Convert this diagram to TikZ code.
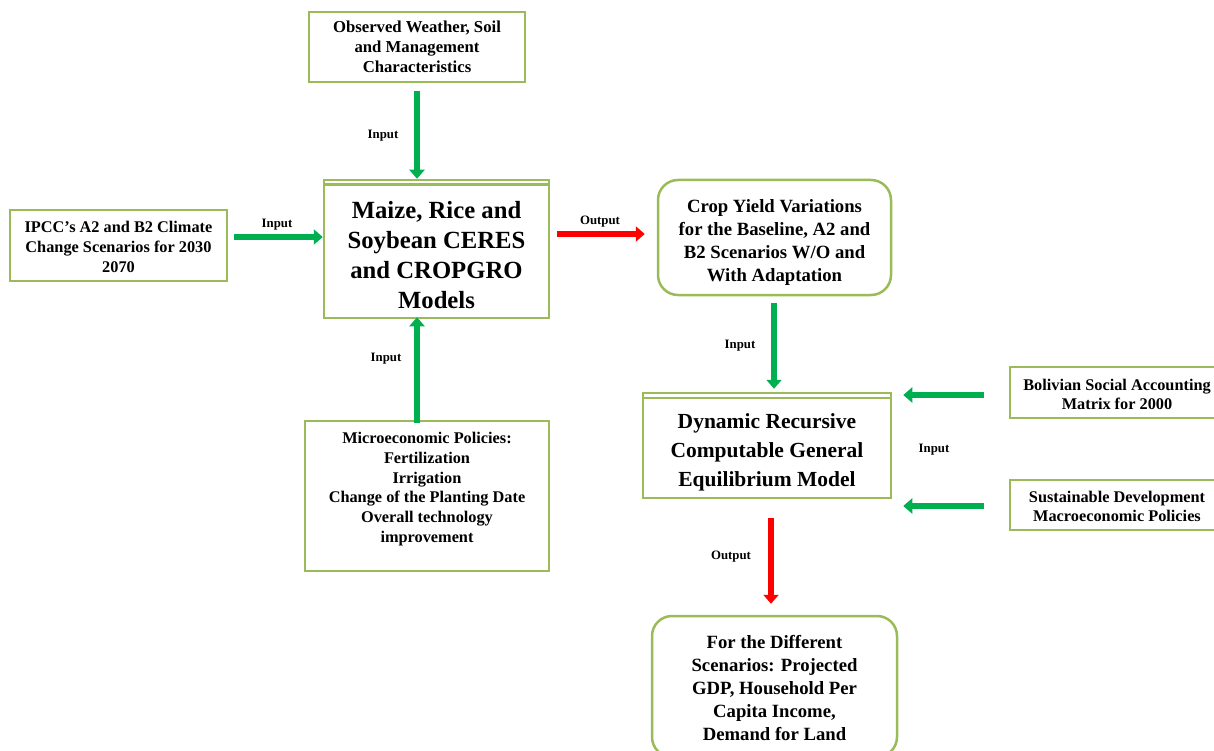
\documentclass[tikz,border=0pt]{standalone}
\usepackage{fontspec}
\setmainfont{Liberation Serif}
\usetikzlibrary{arrows.meta}
\definecolor{boxgreen}{HTML}{9BBB59}
\definecolor{arrgreen}{HTML}{00B050}
\definecolor{arrred}{HTML}{FF0000}
\tikzset{
  x=1pt, y=-1pt,
  box/.style={draw=boxgreen, line width=2.5pt, fill=white, inner sep=0pt},
  rbox/.style={box, rounded corners=20pt},
  txt/.style={align=center, inner sep=0pt},
  arrg/.style={draw=arrgreen, line width=6.5pt, -{Triangle[length=9pt,width=15pt]}},
  arrr/.style={draw=arrred, line width=6.5pt, -{Triangle[length=9pt,width=15pt]}},
  lbl/.style={font=\fontsize{12.8}{14}\selectfont\bfseries, inner sep=0pt},
  fA/.style={txt, font=\fontsize{16.3}{19.8}\selectfont\bfseries},
  fO/.style={txt, font=\fontsize{16.7}{20}\selectfont\bfseries},
  fB/.style={txt, font=\fontsize{24.7}{30}\selectfont\bfseries},
  fD/.style={txt, font=\fontsize{21.5}{29}\selectfont\bfseries},
  fC/.style={txt, font=\fontsize{18.7}{23}\selectfont\bfseries},
}
\begin{document}
\begin{tikzpicture}
\useasboundingbox (0,0) rectangle (1214,751);
% boxes
\node[box, minimum width=216pt, minimum height=70pt] (obs) at (417,47) {};
\node[fO] (obsT) at (417,47) {Observed Weather, Soil\\and Management\\Characteristics};
\node[box, minimum width=217pt, minimum height=71pt] (ipcc) at (118.5,245.5) {};
\node[fA] (ipccT) at (118.5,247) {IPCC’s A2 and B2 Climate\\Change Scenarios for 2030\\2070};
\node[box, minimum width=225pt, minimum height=138pt] (maize) at (436.5,249) {};
\draw[boxgreen, line width=2.5pt] ([yshift=-6pt]maize.north west) -- ([yshift=-6pt]maize.north east);
\node[fB] (maizeT) at (436.5,255) {Maize, Rice and\\Soybean CERES\\and CROPGRO\\Models};
\node[rbox, minimum width=233pt, minimum height=115pt] (crop) at (774.5,237.5) {};
\node[fC] (cropT) at (774.5,242.5) {Crop Yield Variations\\for the Baseline, A2 and\\B2 Scenarios W/O and\\With Adaptation};
\node[box, minimum width=244pt, minimum height=150pt] (micro) at (427,496) {};
\node[fA] (microT) at (427,489) {Microeconomic Policies:\\Fertilization\\Irrigation\\Change of the Planting Date\\Overall technology\\improvement};
\node[box, minimum width=248pt, minimum height=105pt] (dyn) at (767,445.5) {};
\draw[boxgreen, line width=2.5pt] ([yshift=-6pt]dyn.north west) -- ([yshift=-6pt]dyn.north east);
\node[fD] (dynT) at (767,452) {Dynamic Recursive\\Computable General\\Equilibrium Model};
\node[box, minimum width=214pt, minimum height=51pt] (bol) at (1117,392.5) {};
\node[fA] (bolT) at (1117,394.5) {Bolivian Social Accounting\\Matrix for 2000};
\node[box, minimum width=214pt, minimum height=50pt] (sus) at (1117,505) {};
\node[fA] (susT) at (1117,506.5) {Sustainable Development\\Macroeconomic Policies};
\node[rbox, minimum width=245pt, minimum height=141pt] (for) at (774.5,686.5) {};
\node[fC] (forT) at (774.5,687.5) {For the Different\\Scenarios: Projected\\GDP, Household Per\\Capita Income,\\Demand for Land};
% connectors
\draw[arrg, shorten <=8pt] (obs.south) -- ([xshift=-19.5pt]maize.north);
\draw[arrg, shorten <=6pt] ([yshift=8.5pt]ipcc.east) -- ([yshift=12pt]maize.west);
\draw[arrg, shorten <=-3pt, shorten >=-2pt] ([xshift=-10pt]micro.north) -- ([xshift=-19.5pt]maize.south);
\draw[arrr, shorten <=7pt, shorten >=12pt] ([yshift=15pt]maize.east) -- ([yshift=3.5pt]crop.west);
\draw[arrg, shorten <=7pt, shorten >=3pt] ([xshift=-0.5pt]crop.south) -- ([xshift=7pt]dyn.north);
\draw[arrg, shorten <=25pt, shorten >=11pt] ([yshift=-2.5pt]bol.west) -- ([yshift=50.5pt]dyn.east);
\draw[arrg, shorten <=25pt, shorten >=11pt] ([yshift=-1pt]sus.west) -- ([yshift=-60.5pt]dyn.east);
\draw[arrr, shorten <=19pt, shorten >=11pt] ([xshift=4pt]dyn.south) -- ([xshift=-3.5pt]for.north);
% labels
\node[lbl] (l1) at (383,136) {Input};
\node[lbl] (l2) at (277,225) {Input};
\node[lbl] (l3) at (386,359) {Input};
\node[lbl] (l4) at (600,222) {Output};
\node[lbl] (l5) at (740,346) {Input};
\node[lbl] (l6) at (934,450) {Input};
\node[lbl] (l7) at (731,557) {Output};
\end{tikzpicture}
\end{document}
